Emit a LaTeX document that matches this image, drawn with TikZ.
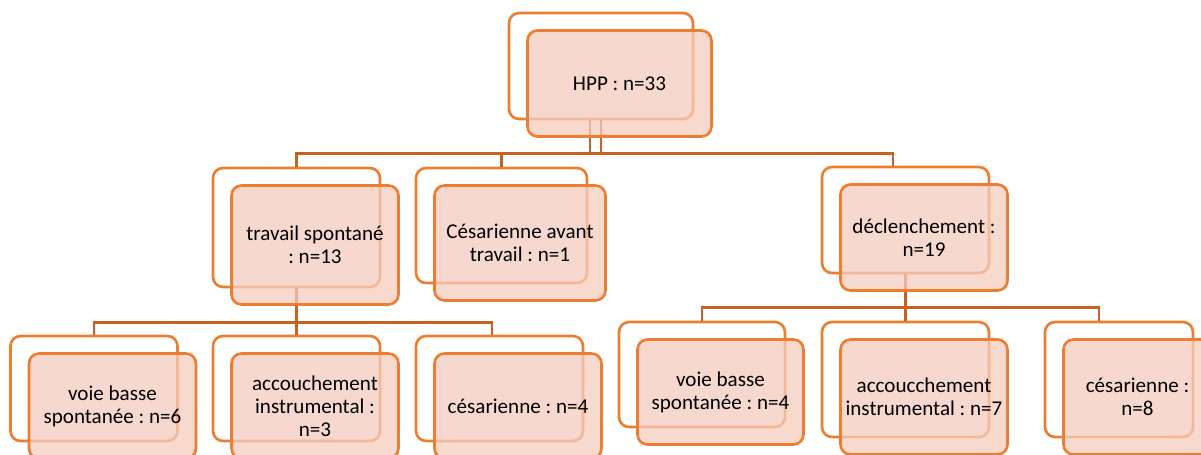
\documentclass[tikz,border=0pt]{standalone}
\usepackage{fontspec}
\setmainfont{Carlito}
\frenchspacing
\usetikzlibrary{positioning}
\definecolor{boxedge}{RGB}{237,125,49}
\definecolor{boxfill}{RGB}{244,204,190}
\definecolor{linkcol}{RGB}{200,98,35}

\begin{document}
\begin{tikzpicture}[x=0.02cm, y=-0.02cm, node distance = 0.35cm and 0.37cm, on grid,
    back/.style={draw=boxedge, line width=1.5pt, rounded corners=0.2cm, fill=white, inner sep=0pt},
    front/.style={back, fill=boxfill, fill opacity=0.75, text opacity=1, text=black,
      align=center, font=\fontsize{12}{13}\selectfont},
    link/.style={draw=linkcol, line width=1.4pt}]
\useasboundingbox (0,0) rectangle (1201,454);
% back boxes
\node (hppB) [back, minimum width=3.68cm, minimum height=2.12cm] at (601,66) {};
\node (travB) [back, minimum width=3.34cm, minimum height=2.38cm] at (296.5,227.5) {};
\node (cesavB) [back, minimum width=3.42cm, minimum height=2.30cm] at (501.5,225.5) {};
\node (declB) [back, minimum width=3.34cm, minimum height=2.12cm] at (905.5,220) {};
\node (vbs6B) [back, minimum width=3.34cm, minimum height=2.10cm] at (94,388.5) {};
\node (acc3B) [back, minimum width=3.34cm, minimum height=2.10cm] at (296.5,388.5) {};
\node (ces4B) [back, minimum width=3.34cm, minimum height=2.10cm] at (499.5,388.5) {};
\node (vbs4B) [back, minimum width=3.32cm, minimum height=2.10cm] at (702,374.5) {};
\node (acc7B) [back, minimum width=3.34cm, minimum height=2.30cm] at (905.5,379.5) {};
\node (ces8B) [back, minimum width=2.96cm, minimum height=2.30cm] at (1119,379.5) {};
% connectors
\draw [link] (hppB.south) -- ++(0,33) coordinate (bus0);
\draw [link, line width=0.6pt] ([xshift=-0.22cm]hppB.south) -- ++(0,33) coordinate (bus0b);
\draw [link] (bus0) -| (travB.north);
\draw [link] (bus0) -| (cesavB.north);
\draw [link] (bus0) -| ([xshift=-0.25cm]declB.north);
\draw [link] (travB.south) -- ++(0,34) coordinate (bus1);
\draw [link] (bus1) -| (vbs6B.north);
\draw [link] (bus1) -| (acc3B.north);
\draw [link] (bus1) -| ([xshift=-0.15cm]ces4B.north);
\draw [link] (declB.south) -- ++(0,33) coordinate (bus2);
\draw [link] (bus2) -| (vbs4B.north);
\draw [link] (bus2) -| (acc7B.north);
\draw [link] (bus2) -| ([xshift=-0.4cm]ces8B.north);
% front boxes
\node (hpp) [front, below right = of hppB, minimum width=3.68cm, minimum height=2.12cm] {HPP : n=33};
\node (trav) [front, below right = of travB, minimum width=3.34cm, minimum height=2.38cm] {travail spontané\\: n=13};
\node (cesav) [front, below right = of cesavB, minimum width=3.42cm, minimum height=2.30cm] {Césarienne avant\\travail : n=1};
\node (decl) [front, below right = of declB, minimum width=3.34cm, minimum height=2.12cm] {déclenchement :\\n=19};
\node (vbs6) [front, below right = of vbs6B, minimum width=3.34cm, minimum height=2.10cm] {voie basse\\spontanée : n=6};
\node (acc3) [front, below right = of acc3B, minimum width=3.34cm, minimum height=2.10cm] {accouchement\\instrumental :\\n=3};
\node (ces4) [front, below right = of ces4B, minimum width=3.34cm, minimum height=2.10cm] {césarienne : n=4};
\node (vbs4) [front, below right = of vbs4B, minimum width=3.32cm, minimum height=2.10cm] {voie basse\\spontanée : n=4};
\node (acc7) [front, below right = of acc7B, minimum width=3.34cm, minimum height=2.30cm] {accoucchement\\instrumental : n=7};
\node (ces8) [front, below right = of ces8B, minimum width=2.96cm, minimum height=2.30cm] {césarienne :\\n=8};
\end{tikzpicture}
\end{document}
